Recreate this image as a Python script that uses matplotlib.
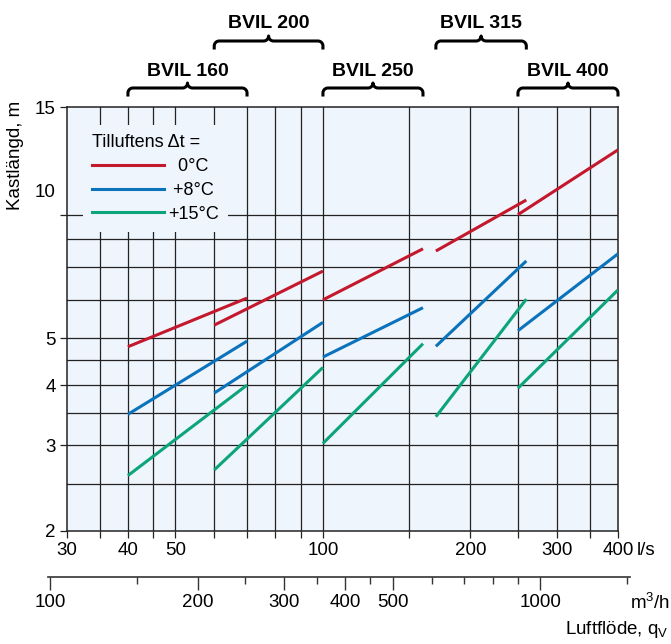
import numpy as np
import matplotlib
matplotlib.use("Agg")
import matplotlib.pyplot as plt
from matplotlib.lines import Line2D
from matplotlib.ticker import NullFormatter

plt.rcParams['font.family'] = ['Liberation Sans', 'DejaVu Sans']
plt.rcParams['mathtext.fontset'] = 'custom'
plt.rcParams['mathtext.rm'] = 'Liberation Sans'
plt.rcParams['mathtext.it'] = 'Liberation Sans:italic'

# --- data ---
models = ['BVIL 160', 'BVIL 200', 'BVIL 250', 'BVIL 315', 'BVIL 400']
q_start = [40, 60, 100, 170, 250]      # l/s
q_end = [70, 100, 160, 260, 400]       # l/s
throw0_start = [4.8, 5.32, 6.0, 7.57, 9.0]
throw0_end = [6.05, 6.88, 7.65, 9.65, 12.25]
throw8_start = [3.48, 3.85, 4.57, 4.81, 5.18]
throw8_end = [4.93, 5.39, 5.78, 7.22, 7.47]
throw15_start = [2.60, 2.67, 3.03, 3.44, 3.94]
throw15_end = [4.0, 4.35, 4.87, 6.02, 6.29]
brace_row = [0, 1, 0, 1, 0]

legend_labels = ['  0°C', ' +8°C', '+15°C']
colors = ['#C4182D', '#0B72BC', '#0CA47A']

x_major = [30, 40, 50, 100, 200, 300, 400]
x_minor = [35, 45, 60, 70, 80, 90, 150, 250, 350]
x_grid = [35, 40, 45, 50, 60, 70, 80, 90, 100, 150, 200, 250, 300, 350]
y_major = [2, 3, 4, 5, 9, 15]
y_major_labels = ['2', '3', '4', '5', '', '15']
y_grid = [2.5, 3, 3.5, 4, 4.5, 5, 6, 7, 8, 9]

m3h_major = [100, 200, 300, 400, 500, 1000]
m3h_minor = [150, 250, 350, 450, 600, 700, 800, 900, 1500]

bg = '#EEF5FC'
W, H = 671, 644
fs = 13.5

fig = plt.figure(figsize=(W / 100, H / 100), dpi=100)
ax = fig.add_axes([66.7 / W, 113.3 / H, 551.3 / W, 423.4 / H])
ax.set_xscale('log')
ax.set_yscale('log')
ax.set_xlim(30, 400)
ax.set_ylim(2, 15)
ax.set_facecolor(bg)

for x in x_grid:
    ax.axvline(x, color='#222222', lw=0.9, zorder=1)
for y in y_grid:
    ax.axhline(y, color='#222222', lw=0.9, zorder=1)

ax.set_xticks(x_major)
ax.set_xticklabels([str(v) for v in x_major])
ax.set_xticks(x_minor, minor=True)
ax.xaxis.set_minor_formatter(NullFormatter())
ax.set_yticks(y_major)
ax.set_yticklabels(y_major_labels)
ax.set_yticks([], minor=True)
ax.yaxis.set_minor_formatter(NullFormatter())
ax.tick_params(axis='both', which='both', direction='out', length=5, width=0.9,
               color='#222222', labelsize=fs, pad=3)
ax.text(-0.021, 10, '10', transform=ax.get_yaxis_transform(), ha='right',
        va='center', fontsize=fs)
ax.annotate('l/s', xy=(1, 0), xycoords='axes fraction', xytext=(13.5, -8),
            textcoords='offset points', ha='left', va='top', fontsize=fs)
for s in ax.spines.values():
    s.set_linewidth(1.1)
    s.set_color('#222222')

series = [(throw0_start, throw0_end), (throw8_start, throw8_end),
          (throw15_start, throw15_end)]
for (ts, te), c in zip(series, colors):
    for i in range(len(models)):
        ax.plot([q_start[i], q_end[i]], [ts[i], te[i]], color=c, lw=2.2,
                solid_capstyle='butt', zorder=3)

handles = [Line2D([], [], color=c, lw=2.2) for c in colors]
leg = ax.legend(handles, legend_labels, title='Tilluftens Δt =', loc='upper left',
                bbox_to_anchor=(0.0296, 0.958), borderaxespad=0, frameon=True,
                fancybox=False, facecolor=bg, edgecolor='none', framealpha=1,
                fontsize=13, title_fontsize=13, handlelength=4, handletextpad=0.2,
                labelspacing=0.38, borderpad=0.5, alignment='left')
leg.get_frame().set_linewidth(0)

# --- braces with model names ---
def draw_brace(x0, x1, y_flat, name, y_text):
    px0 = ax.transData.transform((x0, 2))[0]
    px1 = ax.transData.transform((x1, 2))[0]
    pm = (px0 + px1) / 2
    r = 5.0
    yf = H - y_flat
    xs, ys = [px0], [yf - 7]
    a = np.linspace(np.pi, np.pi / 2, 12)
    xs += list(px0 + r + r * np.cos(a)); ys += list(yf - r + r * np.sin(a))
    a = np.linspace(-np.pi / 2, 0, 12)
    xs += list(pm - r + r * np.cos(a)); ys += list(yf + r + r * np.sin(a))
    a = np.linspace(np.pi, 3 * np.pi / 2, 12)
    xs += list(pm + r + r * np.cos(a)); ys += list(yf + r + r * np.sin(a))
    a = np.linspace(np.pi / 2, 0, 12)
    xs += list(px1 - r + r * np.cos(a)); ys += list(yf - r + r * np.sin(a))
    xs.append(px1); ys.append(yf - 7)
    fig.add_artist(Line2D(np.array(xs) / W, np.array(ys) / H, transform=fig.transFigure,
                          color='black', lw=2.2, solid_joinstyle='round'))
    fig.text(pm / W, (H - y_text) / H, name, ha='center', va='baseline',
             fontsize=14, fontweight='bold')

for i, name in enumerate(models):
    if brace_row[i] == 0:
        draw_brace(q_start[i], q_end[i], 88, name, 76)
    else:
        draw_brace(q_start[i], q_end[i], 41, name, 28)

# --- secondary m3/h scale ---
lo, hi = 99, 1520
pl = ax.transData.transform((lo / 3.6, 2))[0]
pr = ax.transData.transform((hi / 3.6, 2))[0]
ax2 = fig.add_axes([pl / W, (H - 577) / H, (pr - pl) / W, 1e-4])
ax2.set_xscale('log')
ax2.set_xlim(lo, hi)
ax2.patch.set_visible(False)
for k in ['left', 'right', 'top']:
    ax2.spines[k].set_visible(False)
ax2.spines['bottom'].set_linewidth(1.2)
ax2.spines['bottom'].set_color('#333333')
ax2.set_yticks([])
ax2.set_xticks(m3h_major)
ax2.set_xticklabels([str(v) for v in m3h_major])
ax2.set_xticks(m3h_minor, minor=True)
ax2.xaxis.set_minor_formatter(NullFormatter())
ax2.tick_params(axis='x', which='major', direction='out', length=9, width=1.0,
                color='#333333', labelsize=fs, pad=3)
ax2.tick_params(axis='x', which='minor', direction='out', length=5, width=1.0,
                color='#333333')

fig.text(630 / W, (H - 603) / H, 'm$^3$/h', ha='left', va='center', fontsize=fs)
fig.text(669 / W, (H - 630) / H, 'Luftflöde, q$_\\mathrm{V}$', ha='right',
         va='center', fontsize=fs)
fig.text(16 / W, (H - 155) / H, 'Kastlängd, m', ha='center', va='center',
         rotation=90, fontsize=fs)

fig.savefig('out.png', dpi=100)
